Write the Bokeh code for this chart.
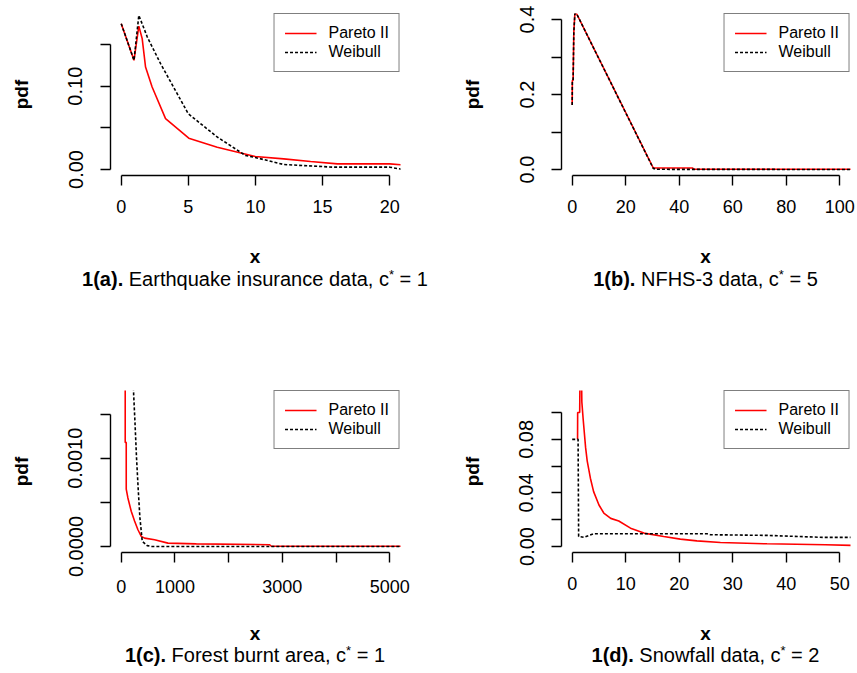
import math
from bokeh.plotting import figure
from bokeh.layouts import column, row
from bokeh.models import FixedTicker, Legend, LegendItem, Range1d, Div
from bokeh.embed import file_html
from bokeh.resources import INLINE

# ---------------- data ----------------
# 1(a) Earthquake insurance data
a_pareto_x = [0.0, 0.95, 1.31, 1.56, 1.81, 2.3, 3.3, 5.03, 7.15, 9.98, 12.1, 14.1, 16.1, 20.0, 20.8, 21.5]
a_pareto_y = [0.175, 0.131, 0.172, 0.157, 0.123, 0.099, 0.061, 0.0376, 0.0268, 0.0156, 0.0128, 0.0096, 0.0068, 0.0068, 0.0057, 0.0052]
a_weib_x = [0.0, 0.95, 1.31, 1.94, 2.93, 4.99, 7.15, 9.26, 9.98, 12.1, 15.8, 20.0, 20.8, 21.5]
a_weib_y = [0.175, 0.131, 0.185, 0.159, 0.127, 0.067, 0.039, 0.0168, 0.0144, 0.006, 0.0028, 0.0028, 0.0005, 0.0]

# 1(b) NFHS-3 data
b_pareto_x = [0.0, 0.05, 0.35, 0.6, 1.0, 1.6, 30.3, 45.0, 45.5, 106.0]
b_pareto_y = [0.172, 0.236, 0.24, 0.366, 0.416, 0.416, 0.004, 0.004, 0.0005, 0.0005]
b_weib_x = [0.0, 0.05, 0.35, 0.6, 1.0, 1.6, 30.3, 31.5, 106.0]
b_weib_y = [0.172, 0.236, 0.24, 0.366, 0.416, 0.416, 0.003, 0.0005, 0.0]

# 1(c) Forest burnt area
c_pareto_x = [74, 74, 93, 93, 124, 186, 248, 311, 373, 435, 621, 870, 1398, 2764, 2795, 5250]
c_pareto_y = [0.0025, 0.00118, 0.00118, 0.00065, 0.00055, 0.0004, 0.00029, 0.00019, 0.000115, 0.000095,
              0.000076, 0.000038, 0.00003, 0.00002, 0.000003, 0.000003]
c_weib_x = [215, 230, 254, 285, 316, 347, 391, 484, 560, 5250]
c_weib_y = [0.0022, 0.00174, 0.00143, 0.00100, 0.00065, 0.00033, 0.00006, 0.00001, 0.0, 0.0]

# 1(d) Snowfall data
d_pareto_x = [1.0, 1.02, 1.4, 1.45, 1.75, 1.8, 2.05, 2.5, 2.8, 3.4, 4.0, 5.0, 5.9, 7.2, 8.7, 10.9, 13.4,
              17.1, 20.2, 23.3, 27.7, 36.4, 47.3, 52.5]
d_pareto_y = [0.08, 0.10, 0.10, 0.125, 0.125, 0.108, 0.095, 0.074, 0.064, 0.051, 0.041, 0.031, 0.025, 0.021,
              0.019, 0.0137, 0.010, 0.0075, 0.0055, 0.0042, 0.003, 0.002, 0.0013, 0.0008]
d_weib_x = [0.0, 1.1, 1.2, 2.2, 4.0, 25.2, 25.8, 36.4, 47.0, 52.5]
d_weib_y = [0.08, 0.08, 0.0075, 0.0068, 0.0095, 0.0095, 0.0088, 0.0083, 0.0068, 0.0068]

series_names = ["Pareto II", "Weibull"]
x_axis_title = "x"
y_axis_title = "pdf"

# axis ticks and labels
a_xticks = [0, 5, 10, 15, 20]
a_xlabels = ["0", "5", "10", "15", "20"]
a_yticks = [0, 0.05, 0.10, 0.15]
a_ylabels = ["0.00", " ", "0.10", " "]
b_xticks = [0, 20, 40, 60, 80, 100]
b_xlabels = ["0", "20", "40", "60", "80", "100"]
b_yticks = [0, 0.1, 0.2, 0.3, 0.4]
b_ylabels = ["0.0", " ", "0.2", " ", "0.4"]
c_xticks = [0, 1000, 2000, 3000, 4000, 5000]
c_xlabels = ["0", "1000", " ", "3000", " ", "5000"]
c_yticks = [0, 0.0005, 0.0010, 0.0015]
c_ylabels = ["0.0000", " ", "0.0010", " "]
d_xticks = [0, 10, 20, 30, 40, 50]
d_xlabels = ["0", "10", "20", "30", "40", "50"]
d_yticks = [0, 0.02, 0.04, 0.06, 0.08, 0.10]
d_ylabels = ["0.00", " ", "0.04", " ", "0.08", " "]

titles = [
    ("1(a).", "Earthquake insurance data, c", "*", " = 1"),
    ("1(b).", "NFHS-3 data, c", "*", " = 5"),
    ("1(c).", "Forest burnt area, c", "*", " = 1"),
    ("1(d).", "Snowfall data, c", "*", " = 2"),
]

# axis limits (R style: xlim/ylim extended by 4 %)
a_xlim, a_ylim = (0, 20), (0, 0.18)
b_xlim, b_ylim = (0, 100), (0, 0.40)
c_xlim, c_ylim = (0, 5000), (0, 0.0017)
d_xlim, d_ylim = (0, 50), (0, 0.112)

FONT = "Liberation Sans"


def ext(lim):
    r = lim[1] - lim[0]
    return (lim[0] - 0.04 * r, lim[1] + 0.04 * r)


def make_panel(width, height, bl, br, bt, bb, xlim, ylim, xticks, xlabels, yticks, ylabels,
               px, py, wx, wy):
    p = figure(width=width, height=height, x_range=Range1d(*ext(xlim)), y_range=Range1d(*ext(ylim)),
               output_backend="svg", toolbar_location=None,
               min_border_left=bl, min_border_right=br, min_border_top=bt, min_border_bottom=bb)
    p.outline_line_color = None
    p.grid.visible = False
    p.background_fill_color = "white"
    p.border_fill_color = "white"

    r1 = p.line(px, py, line_color="#FF0000", line_width=1.6)
    r2 = p.line(wx, wy, line_color="black", line_width=1.6, line_dash="3 2")

    for ax, ticks, labels in ((p.xaxis[0], xticks, xlabels), (p.yaxis[0], yticks, ylabels)):
        ax.ticker = FixedTicker(ticks=ticks)
        ax.major_label_overrides = dict(zip(ticks, labels))
        ax.bounds = (ticks[0], ticks[-1])
        ax.minor_tick_line_color = None
        ax.major_tick_in = 0
        ax.major_tick_out = 10
        ax.axis_line_width = 1.4
        ax.major_tick_line_width = 1.4
        ax.axis_line_color = "black"
        ax.major_tick_line_color = "black"
        ax.major_label_text_font = FONT
        ax.major_label_text_color = "black"
        ax.axis_label_text_font = FONT
        ax.axis_label_text_font_style = "bold"
        ax.axis_label_text_font_size = "19px"
        ax.axis_label_text_color = "black"
    p.xaxis.major_label_text_font_size = "18px"
    p.xaxis.major_label_standoff = 14
    p.yaxis.major_label_text_font_size = "20px"
    p.yaxis.major_label_orientation = "vertical"
    p.yaxis.major_label_standoff = 14
    p.yaxis.axis_label = y_axis_title
    p.yaxis.axis_label_standoff = 30

    legend = Legend(items=[LegendItem(label=series_names[0], renderers=[r1]),
                           LegendItem(label=series_names[1], renderers=[r2])],
                    location="top_right", margin=0, padding=10, spacing=1,
                    glyph_width=32, glyph_height=16, label_height=16, label_standoff=12,
                    label_text_font=FONT, label_text_font_size="16px", label_text_color="black",
                    border_line_color="black", border_line_width=1.4, background_fill_alpha=1.0)
    p.add_layout(legend)
    return p


def make_caption(width, height, center_x, x_top, cap_top, title):
    b, n1, s, n2 = title
    common = (f'position:absolute; left:{center_x}px; transform:translateX(-50%); white-space:nowrap;'
              f' font-family:\'{FONT}\'; color:black;')
    html = (
        f'<div style="position:relative; width:{width}px; height:{height}px;">'
        f'<div style="{common} top:{x_top}px; font-size:19px; line-height:19px; font-weight:bold;">'
        f'{x_axis_title}</div>'
        f'<div style="{common} top:{cap_top}px; font-size:20px; line-height:20px;">'
        f'<b>{b}</b> {n1}<span style="font-size:13px; position:relative; top:-7px;">{s}</span>{n2}'
        f'</div></div>'
    )
    return Div(text=html, width=width, height=height, margin=0,
               styles={"overflow": "visible", "padding": "0", "margin": "0"})


# top row: frame from y=13 to y=175
pa = make_panel(428, 235, 110, 28, 13, 60, a_xlim, a_ylim, a_xticks, a_xlabels, a_yticks, a_ylabels,
                a_pareto_x, a_pareto_y, a_weib_x, a_weib_y)
pb = make_panel(429, 235, 133, 7, 13, 60, b_xlim, b_ylim, b_xticks, b_xlabels, b_yticks, b_ylabels,
                b_pareto_x, b_pareto_y, b_weib_x, b_weib_y)
ca = make_caption(428, 65, 255, 12, 34, titles[0])
cb = make_caption(429, 65, 277.5, 12, 34, titles[1])

# bottom row: frame from y=390 to y=552
pc = make_panel(428, 312, 110, 28, 90, 60, c_xlim, c_ylim, c_xticks, c_xlabels, c_yticks, c_ylabels,
                c_pareto_x, c_pareto_y, c_weib_x, c_weib_y)
pd_ = make_panel(429, 312, 133, 7, 90, 60, d_xlim, d_ylim, d_xticks, d_xlabels, d_yticks, d_ylabels,
                 d_pareto_x, d_pareto_y, d_weib_x, d_weib_y)
cc = make_caption(428, 60, 255, 12, 33, titles[2])
cd = make_caption(429, 60, 277.5, 12, 33, titles[3])

layout = column(row(column(pa, ca), column(pb, cb)), row(column(pc, cc), column(pd_, cd)))
open("out.html", "w").write(file_html(layout, INLINE))
